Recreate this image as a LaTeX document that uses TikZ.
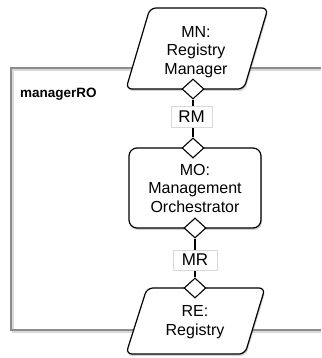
\documentclass[tikz,border=0pt]{standalone}
\usepackage{fontspec}
\setmainfont{Liberation Sans}
\usetikzlibrary{shapes.geometric,shadows}
\begin{document}
\begin{tikzpicture}[x=1pt,y=-1pt,
  box/.style={draw=black,line width=1.2pt,fill=white,rounded corners=6pt,drop shadow={opacity=0.35,shadow xshift=1pt,shadow yshift=-2pt}},
  txt/.style={align=center,font=\fontsize{16}{18.5}\selectfont,inner sep=0pt},
  port/.style={diamond,draw=black,line width=1.1pt,fill=white,minimum width=22pt,minimum height=20pt,inner sep=0pt},
  lbl/.style={draw=black!15,fill=white,font=\fontsize{17}{20}\selectfont,inner sep=0pt},
  conn/.style={draw=black,line width=1.1pt},
  frameline/.style={draw=black!45,line width=1.1pt},
  frameshadow/.style={draw=black!15,line width=2pt}]
\useasboundingbox (0,0) rectangle (321,358);
% frame
\draw[frameshadow] (321,70) -- (13,70) -- (13,332) -- (321,332);
\draw[frameline] (321,68) -- (11,68) -- (11,330) -- (321,330);
\node[anchor=base west,font=\bfseries\fontsize{13.5}{16}\selectfont,inner sep=0pt] (ro) at (20,98) {managerRO};
% shapes
\draw[box] (150,8) -- (268,8) -- (244,89) -- (126,89) -- cycle;
\draw[box,rounded corners=8pt] (129,148) rectangle (261,228);
\draw[box] (147,288) -- (265,288) -- (245,354) -- (126,354) -- cycle;
% texts
\node[txt] (mn) at (196,52) {MN:\\Registry\\Manager};
\node[txt] (mo) at (195,188) {MO:\\Management\\Orchestrator};
\node[txt] (re) at (195,322) {RE:\\Registry};
% ports
\node[port] (mnp) at (193,89) {};
\node[port] (mot) at (193,148) {};
\node[port] (mob) at (195,228) {};
\node[port] (rep) at (195,288) {};
% connectors
\draw[conn] (mnp) -- (mot);
\draw[conn] (mob) -- (rep);
% labels
\node[lbl,minimum width=41pt,minimum height=21pt] (rm) at (191.5,116.5) {RM};
\node[lbl,minimum width=44pt,minimum height=20pt] (mr) at (195,260) {MR};
\end{tikzpicture}
\end{document}
